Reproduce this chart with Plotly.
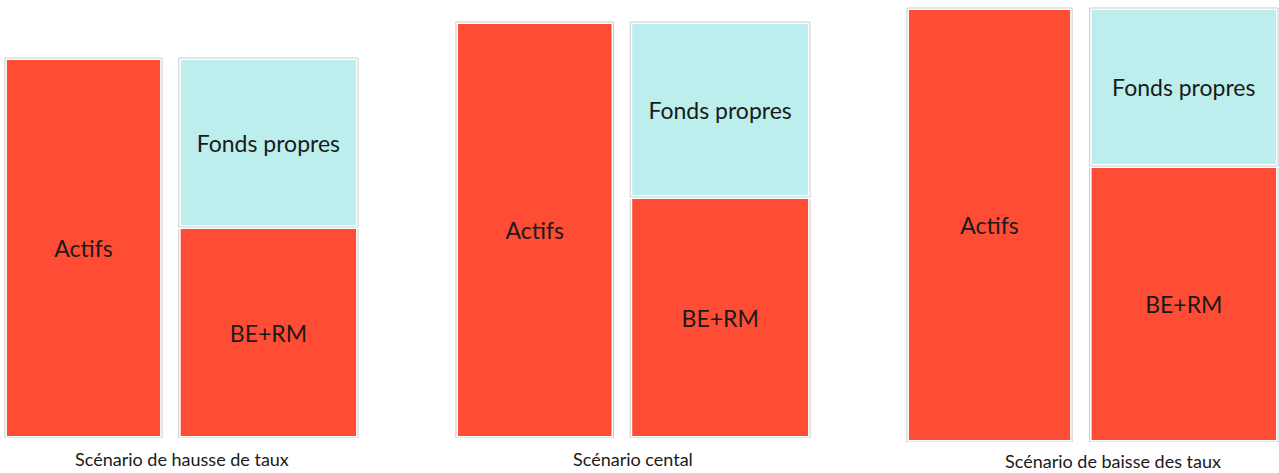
import plotly.graph_objects as go

# Bilan simplifié par scénario de taux (hauteurs relatives)
scenarios = ["Scénario de hausse de taux", "Scénario cental", "Scénario de baisse des taux"]
categories = ["Actifs", "Passif"]
actifs = [380, 416, 434]
be_rm = [211, 241, 276]
fonds_propres = [169, 175, 158]

RED = "#ff4c35"
CYAN = "#bdeeee"
GRAY = "#cccccc"
TXT = "#1a1a1a"
FONT = "Lato"

W, H = 1279, 473
# panel placement in pixels: (left, right, baseline, top)
panels = [(4, 359, 438, 8), (455, 811, 438, 8), (906, 1279, 442, 6)]
label_x = [0.5, 0.5, 0.555]
widths = [0.85, 0.97]

fig = go.Figure()
layout = {}

for i, scen in enumerate(scenarios):
    n = "" if i == 0 else str(i + 1)
    xa, ya = "x" + n, "y" + n
    left, right, base_px, top_px = panels[i]
    ymax = base_px - top_px

    blocks = [
        ("Actifs", categories[0], actifs[i], 0, RED, widths[0]),
        ("BE+RM", categories[1], be_rm[i], 0, RED, widths[1]),
        ("Fonds propres", categories[1], fonds_propres[i], be_rm[i], CYAN, widths[1]),
    ]
    for name, cat, val, base, col, w in blocks:
        fig.add_trace(go.Bar(
            x=[cat], y=[val], base=[base], width=[w],
            marker=dict(color=col, line=dict(color="white", width=4)),
            text=[name], textposition="inside", insidetextanchor="middle",
            textangle=0, textfont=dict(family=FONT, size=23, color=TXT),
            xaxis=xa, yaxis=ya, showlegend=False, hoverinfo="skip",
        ))
        # thin gray frame around each block
        fig.add_trace(go.Bar(
            x=[cat], y=[val], base=[base], width=[w],
            marker=dict(color="rgba(0,0,0,0)", line=dict(color=GRAY, width=1)),
            xaxis=xa, yaxis=ya, showlegend=False, hoverinfo="skip",
        ))

    layout["xaxis" + n] = dict(
        domain=[left / W, right / W], range=[-0.43, 1.49], type="category",
        categoryorder="array", categoryarray=categories, visible=False,
        anchor=ya,
    )
    layout["yaxis" + n] = dict(
        domain=[(H - base_px) / H, (H - top_px) / H], range=[0, ymax],
        visible=False, anchor=xa,
    )

    fig.add_annotation(
        text=scen, xref=xa + " domain", yref="paper",
        x=label_x[i], y=(H - (459 if i < 2 else 461)) / H,
        xanchor="center", yanchor="middle", showarrow=False,
        font=dict(family=FONT, size=18, color=TXT),
    )

fig.update_layout(
    **layout,
    barmode="overlay",
    width=W, height=H, autosize=False,
    margin=dict(l=0, r=0, t=0, b=0),
    plot_bgcolor="white", paper_bgcolor="white",
    uniformtext=dict(minsize=8, mode="show"),
)

fig.write_html("out.html", config={"displayModeBar": False},
               post_script="document.body.style.margin='0';")
